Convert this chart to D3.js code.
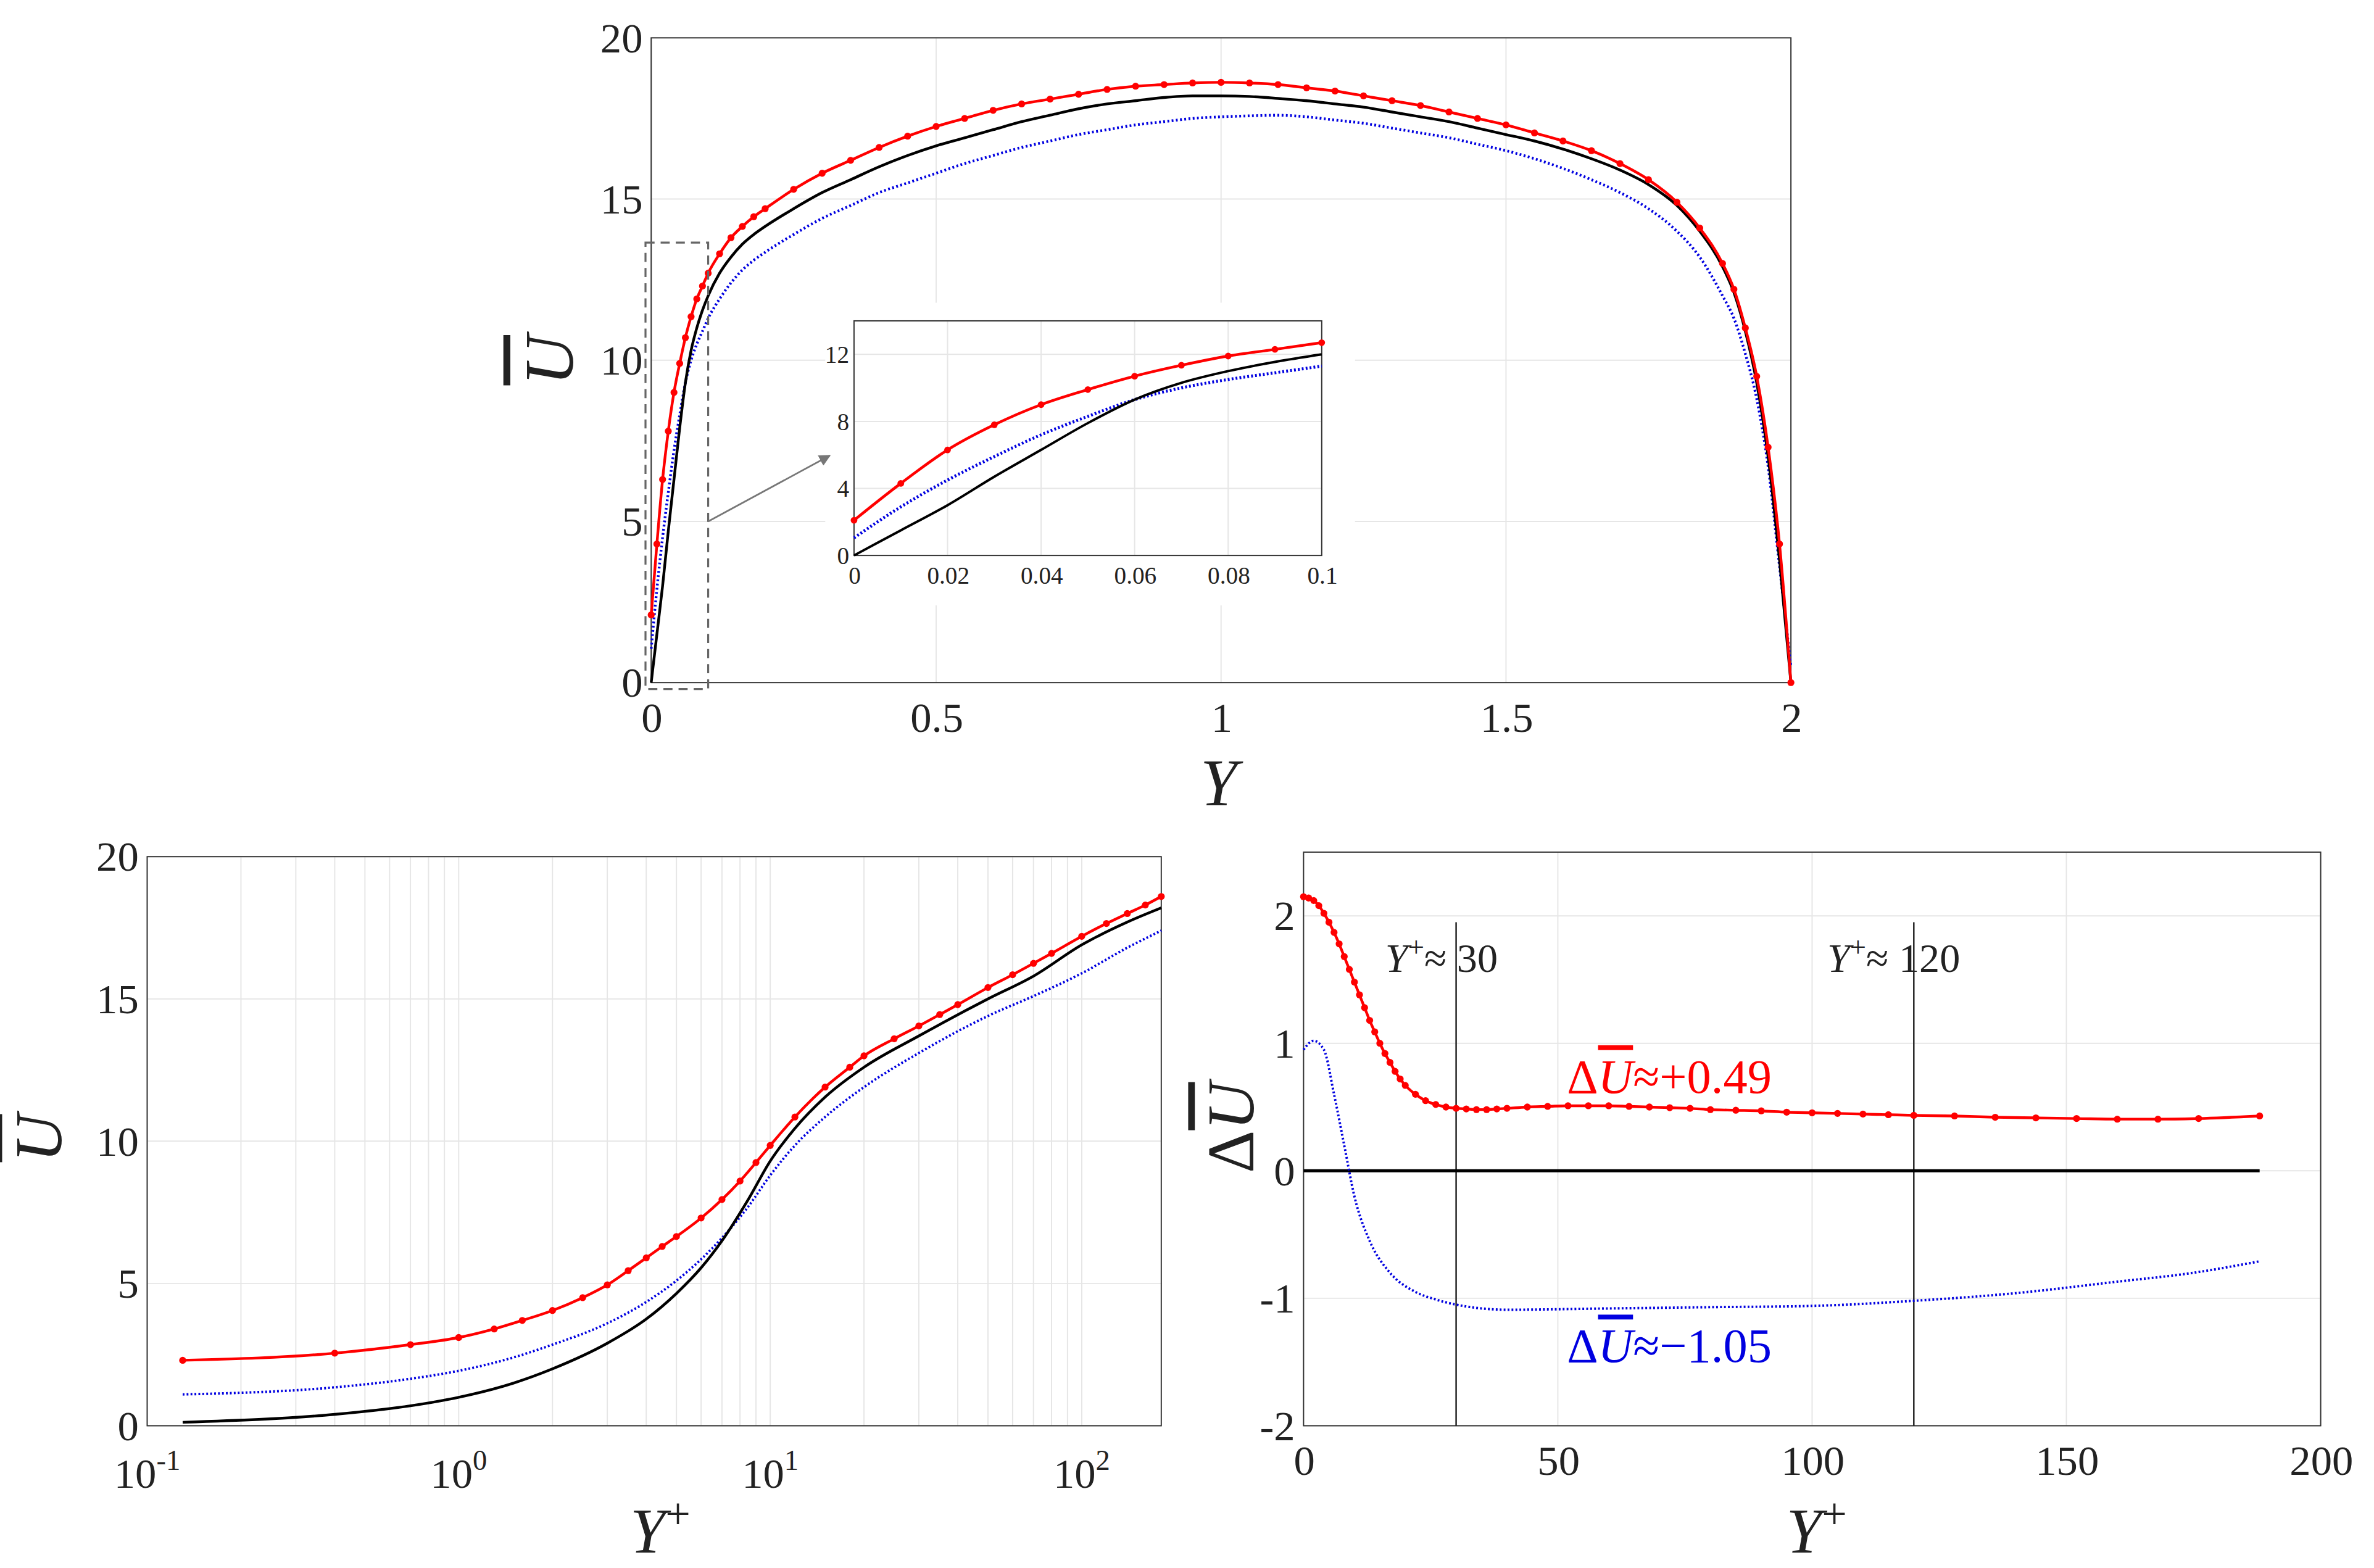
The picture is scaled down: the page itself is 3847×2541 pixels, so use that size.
<!DOCTYPE html>
<html><head><meta charset="utf-8">
<script src="https://cdn.jsdelivr.net/npm/d3@7"></script>
<style>
body{margin:0;background:#fff}
text{font-family:"Liberation Serif","Times New Roman","DejaVu Serif",serif;fill:#222}
</style></head>
<body><svg id="fig"></svg>
<script>
const SERIF = '"Liberation Serif","Times New Roman","DejaVu Serif",serif';
// channel profile, Y in [0,2]
const yGrid = [0,0.01,0.02,0.03,0.04,0.05,0.06,0.07,0.08,0.09,0.1,0.12,0.14,0.16,0.18,0.2,
  0.25,0.3,0.35,0.4,0.45,0.5,0.55,0.6,0.65,0.7,0.75,0.8,0.85,0.9,0.95,1.0,1.05,1.1,1.15,1.2,1.25,
  1.3,1.35,1.4,1.45,1.5,1.55,1.6,1.65,1.7,1.75,1.8,1.84,1.88,1.9,1.92,1.94,1.96,1.98,2.0];
const uRed = [2.1,4.3,6.3,7.8,9.0,9.9,10.7,11.35,11.9,12.3,12.7,13.3,13.8,14.15,14.45,14.7,
  15.3,15.8,16.2,16.6,16.95,17.25,17.5,17.75,17.95,18.1,18.25,18.4,18.5,18.55,18.6,18.62,18.6,18.55,18.45,18.35,18.2,
  18.05,17.9,17.7,17.5,17.3,17.05,16.8,16.5,16.1,15.6,14.9,14.1,13.0,12.2,11.0,9.5,7.3,4.3,0];
const uBlack = [0,1.5,3.0,4.7,6.3,7.9,9.3,10.3,11.0,11.55,12.0,12.7,13.2,13.6,13.9,14.15,
  14.7,15.2,15.6,16.0,16.35,16.65,16.9,17.15,17.4,17.6,17.8,17.95,18.05,18.15,18.2,18.2,18.18,18.12,18.05,17.95,17.85,
  17.7,17.55,17.4,17.2,17.0,16.8,16.55,16.25,15.9,15.45,14.8,14.0,12.9,12.1,10.9,9.3,7.0,3.8,0];
const uBlue = [1.05,2.9,4.5,5.9,7.2,8.3,9.3,10.0,10.5,10.9,11.3,11.9,12.4,12.8,13.1,13.35,
  13.9,14.4,14.8,15.2,15.5,15.8,16.1,16.35,16.6,16.8,17.0,17.15,17.3,17.4,17.5,17.55,17.58,17.6,17.55,17.45,17.35,
  17.2,17.05,16.9,16.7,16.5,16.25,15.95,15.6,15.2,14.7,14.0,13.2,12.0,11.3,10.2,8.8,6.7,3.6,0.5];

// wall units, log plot
const ypRed = [0.13,0.4,0.7,1.0,1.3,1.6,2,2.5,3,3.5,4,4.5,5,6,7,8,9,10,12,15,18,20,25,30,35,40,50,60,70,80,100,120,140,160,180];
const upRed = [2.3,2.55,2.85,3.1,3.4,3.7,4.05,4.5,4.95,5.45,5.9,6.3,6.65,7.3,7.95,8.6,9.25,9.85,10.85,11.9,12.6,13.0,13.6,14.05,14.45,14.8,15.4,15.85,16.25,16.6,17.2,17.65,18.0,18.3,18.6];
const ypLine = [0.13,0.4,0.7,1,1.5,2,3,4,5,6,7,8.5,10,12,15,20,30,50,70,100,140,180];
const upBlack = [0.12,0.4,0.7,1.0,1.5,2.0,2.9,3.75,4.65,5.55,6.5,7.95,9.3,10.45,11.55,12.6,13.7,15.0,15.8,16.9,17.7,18.2];
const upBlue = [1.1,1.35,1.65,1.93,2.4,2.85,3.6,4.35,5.1,5.85,6.6,7.7,8.8,9.85,10.85,11.9,13.1,14.4,15.1,15.9,16.8,17.4];

// velocity difference
const dRedX = [0,1,2,3,4,5,6,7,8,9,10,11,12,13,14,15,16,17,18,19,20,22,24,26,28,30,32,34,36,38,40,44,48,52,56,60,64,68,72,76,80,85,90,95,100,105,110,115,120,128,136,144,152,160,168,176,188];
const dRed = [2.15,2.14,2.12,2.08,2.02,1.95,1.87,1.78,1.68,1.58,1.48,1.38,1.28,1.18,1.09,1.0,0.92,0.85,0.78,0.72,0.67,0.6,0.55,0.52,0.5,0.49,0.485,0.48,0.48,0.485,0.49,0.5,0.505,0.51,0.51,0.51,0.505,0.5,0.495,0.49,0.48,0.475,0.47,0.46,0.455,0.45,0.445,0.44,0.435,0.43,0.42,0.415,0.41,0.405,0.405,0.41,0.43];
const dBlueX = [0,2,4,6,8,10,13,17,22,26,30,40,60,80,100,120,140,160,175,188];
const dBlue = [0.95,1.02,0.95,0.6,0.2,-0.2,-0.55,-0.8,-0.95,-1.01,-1.05,-1.09,-1.08,-1.07,-1.06,-1.02,-0.96,-0.87,-0.8,-0.71];

const W = 1568, H = 1036;
const svg = d3.select('#fig').attr('width', 3847).attr('height', 2541).attr('viewBox', `0 0 ${W} ${H}`);
const RED = '#f00', BLUE = '#0000e0';

function frame(g, x, y, xt, yt, fs, xfmt, yfmt) {
  const [x0, x1] = x.range(), [y0, y1] = y.range();
  g.append('g').selectAll('line').data(xt).join('line')
    .attr('x1', d => x(d)).attr('x2', d => x(d)).attr('y1', y0).attr('y2', y1)
    .attr('stroke', '#e6e6e6').attr('stroke-width', 0.8);
  g.append('g').selectAll('line').data(yt).join('line')
    .attr('x1', x0).attr('x2', x1).attr('y1', d => y(d)).attr('y2', d => y(d))
    .attr('stroke', '#e6e6e6').attr('stroke-width', 0.8);
  g.append('rect').attr('x', x0).attr('y', y1).attr('width', x1 - x0).attr('height', y0 - y1)
    .attr('fill', 'none').attr('stroke', '#333').attr('stroke-width', 0.8);
  const ax = g.append('g').attr('transform', `translate(0,${y0})`)
    .call(d3.axisBottom(x).tickValues(xt).tickSize(0).tickPadding(fs * 0.45).tickFormat(xfmt));
  const ay = g.append('g').attr('transform', `translate(${x0},0)`)
    .call(d3.axisLeft(y).tickValues(yt).tickSize(0).tickPadding(fs * 0.2).tickFormat(yfmt));
  [ax, ay].forEach(a => { a.select('.domain').remove(); a.selectAll('text').attr('font-size', fs).attr('font-family', SERIF).attr('fill', '#222'); });
  return [ax, ay];
}
function ubar(g, x, y, rot, fs, delta, fill) {
  const t = g.append('text').attr('transform', `translate(${x},${y}) rotate(${rot})`)
    .attr('text-anchor', 'middle').attr('font-size', fs).attr('fill', fill || '#222');
  if (delta) t.append('tspan').text('Δ');
  t.append('tspan').attr('font-style', 'italic').attr('text-decoration', 'overline').text('U');
  return t;
}
function yplus(g, x, y, fs) {
  const t = g.append('text').attr('x', x).attr('y', y).attr('text-anchor', 'middle').attr('font-size', fs);
  t.append('tspan').attr('font-style', 'italic').text('Y');
  t.append('tspan').attr('dy', -fs * 0.38).attr('font-size', fs * 0.7).text('+');
}

// ---------- top: U vs Y ----------
const gTop = svg.append('g');
const x1 = d3.scaleLinear().domain([0, 2]).range([430, 1183]);
const y1 = d3.scaleLinear().domain([0, 20]).range([451, 25]);
frame(gTop, x1, y1, [0, 0.5, 1, 1.5, 2], [0, 5, 10, 15, 20], 28, d3.format('~g'), d3.format('d'));
const line1 = d3.line().x((d, i) => x1(yGrid[i])).y(d => y1(d)).curve(d3.curveMonotoneX);
gTop.append('path').attr('d', line1(uBlue)).attr('fill', 'none').attr('stroke', BLUE).attr('stroke-width', 1.8).attr('stroke-dasharray', '1.2 1.6');
gTop.append('path').attr('d', line1(uBlack)).attr('fill', 'none').attr('stroke', '#000').attr('stroke-width', 1.8);
gTop.append('path').attr('d', line1(uRed)).attr('fill', 'none').attr('stroke', RED).attr('stroke-width', 1.8);
gTop.append('g').selectAll('circle').data(uRed).join('circle')
  .attr('cx', (d, i) => x1(yGrid[i])).attr('cy', d => y1(d)).attr('r', 2.3).attr('fill', RED);
gTop.append('text').attr('x', 805).attr('y', 532).attr('text-anchor', 'middle').attr('font-size', 44).attr('font-style', 'italic').text('Y');
ubar(gTop, 378, 238, -90, 46);
// zoom box
gTop.append('rect').attr('x', x1(-0.01)).attr('y', y1(13.65)).attr('width', x1(0.1) - x1(-0.01)).attr('height', y1(-0.2) - y1(13.65))
  .attr('fill', 'none').attr('stroke', '#666').attr('stroke-width', 1.3).attr('stroke-dasharray', '6 4');

// inset
const ins = svg.append('g');
const xi = d3.scaleLinear().domain([0, 0.1]).range([564, 873]);
const yi = d3.scaleLinear().domain([0, 14]).range([367, 212]);
ins.append('rect').attr('x', 545).attr('y', 200).attr('width', 350).attr('height', 200).attr('fill', '#fff');
frame(ins, xi, yi, [0, 0.02, 0.04, 0.06, 0.08, 0.1], [0, 4, 8, 12], 16, d3.format('~g'), d3.format('d'));
const nIn = yGrid.filter(v => v <= 0.1).length;
const linei = d3.line().x((d, i) => xi(yGrid[i])).y(d => yi(d)).curve(d3.curveMonotoneX);
ins.append('path').attr('d', linei(uBlue.slice(0, nIn))).attr('fill', 'none').attr('stroke', BLUE).attr('stroke-width', 2).attr('stroke-dasharray', '1.2 1.4');
ins.append('path').attr('d', linei(uBlack.slice(0, nIn))).attr('fill', 'none').attr('stroke', '#000').attr('stroke-width', 1.6);
ins.append('path').attr('d', linei(uRed.slice(0, nIn))).attr('fill', 'none').attr('stroke', RED).attr('stroke-width', 1.8);
ins.append('g').selectAll('circle').data(uRed.slice(0, nIn)).join('circle')
  .attr('cx', (d, i) => xi(yGrid[i])).attr('cy', d => yi(d)).attr('r', 2.2).attr('fill', RED);
const defs = svg.append('defs');
defs.append('marker').attr('id', 'ah').attr('viewBox', '0 0 10 10').attr('refX', 9).attr('refY', 5)
  .attr('markerWidth', 7).attr('markerHeight', 7).attr('orient', 'auto')
  .append('path').attr('d', 'M0,0 L10,5 L0,10 z').attr('fill', '#777');
ins.append('line').attr('x1', x1(0.1)).attr('y1', y1(5)).attr('x2', 548).attr('y2', 301)
  .attr('stroke', '#777').attr('stroke-width', 1.1).attr('marker-end', 'url(#ah)');

// ---------- bottom left: log ----------
const bl = svg.append('g');
const x2 = d3.scaleLog().domain([0.1, 180]).range([97, 767]);
const y2 = d3.scaleLinear().domain([0, 20]).range([942, 566]);
const minor = [];
[0.1, 1, 10, 100].forEach(dec => { for (let k = 1; k <= 9; k++) if (dec * k <= 180) minor.push(dec * k); });
frame(bl, x2, y2, minor, [0, 5, 10, 15, 20], 28, () => '', d3.format('d'));
[0.1, 1, 10, 100].forEach((v, i) => {
  const t = bl.append('text').attr('x', x2(v)).attr('y', 983).attr('text-anchor', 'middle').attr('font-size', 28);
  t.append('tspan').text('10');
  t.append('tspan').attr('dy', -12).attr('font-size', 19).text(i - 1);
});
const line2 = xs => d3.line().x((d, i) => x2(xs[i])).y(d => y2(d)).curve(d3.curveMonotoneX);
bl.append('path').attr('d', line2(ypLine)(upBlue)).attr('fill', 'none').attr('stroke', BLUE).attr('stroke-width', 1.6).attr('stroke-dasharray', '1.2 1.4');
bl.append('path').attr('d', line2(ypLine)(upBlack)).attr('fill', 'none').attr('stroke', '#000').attr('stroke-width', 1.8);
bl.append('path').attr('d', line2(ypRed)(upRed)).attr('fill', 'none').attr('stroke', RED).attr('stroke-width', 1.8);
bl.append('g').selectAll('circle').data(upRed).join('circle')
  .attr('cx', (d, i) => x2(ypRed[i])).attr('cy', d => y2(d)).attr('r', 2.3).attr('fill', RED);
yplus(bl, 436, 1026, 42);
ubar(bl, 40, 752, -90, 44);

// ---------- bottom right: delta ----------
const br = svg.append('g');
const x3 = d3.scaleLinear().domain([0, 200]).range([861, 1533]);
const y3 = d3.scaleLinear().domain([-2, 2.5]).range([942, 563]);
frame(br, x3, y3, [0, 50, 100, 150, 200], [-2, -1, 0, 1, 2], 28, d3.format('d'), d3.format('d'));
br.selectAll('.tick text').filter(d => d === -1 || d === -2).text(d => '-' + Math.abs(d));
[30, 120].forEach(v => br.append('line').attr('x1', x3(v)).attr('x2', x3(v)).attr('y1', y3(-2)).attr('y2', y3(1.95))
  .attr('stroke', '#222').attr('stroke-width', 1));
br.append('line').attr('x1', x3(0)).attr('x2', x3(188)).attr('y1', y3(0)).attr('y2', y3(0)).attr('stroke', '#000').attr('stroke-width', 2);
const line3 = xs => d3.line().x((d, i) => x3(xs[i])).y(d => y3(d)).curve(d3.curveMonotoneX);
br.append('path').attr('d', line3(dBlueX)(dBlue)).attr('fill', 'none').attr('stroke', BLUE).attr('stroke-width', 1.6).attr('stroke-dasharray', '1.2 1.4');
br.append('path').attr('d', line3(dRedX)(dRed)).attr('fill', 'none').attr('stroke', RED).attr('stroke-width', 1.8);
br.append('g').selectAll('circle').data(dRed).join('circle')
  .attr('cx', (d, i) => x3(dRedX[i])).attr('cy', d => y3(d)).attr('r', 2.3).attr('fill', RED);
[[30, 915], [120, 1207]].forEach(([v, x]) => {
  const t = br.append('text').attr('x', x).attr('y', 642).attr('font-size', 27);
  t.append('tspan').attr('font-style', 'italic').text('Y');
  t.append('tspan').attr('dy', -10).attr('font-size', 19).text('+');
  t.append('tspan').attr('dy', 10).text('≈ ' + v);
});
function dlabel(x, y, col, txt) {
  const t = br.append('text').attr('x', x).attr('y', y).attr('font-size', 32).style('fill', col);
  t.append('tspan').text('Δ');
  t.append('tspan').attr('font-style', 'italic').attr('text-decoration', 'overline').text('U');
  t.append('tspan').text(txt);
}
dlabel(1035, 722, RED, '≈+0.49');
dlabel(1035, 900, BLUE, '≈−1.05');
yplus(br, 1200, 1026, 42);
ubar(br, 828, 745, -90, 44, true);
</script></body></html>
